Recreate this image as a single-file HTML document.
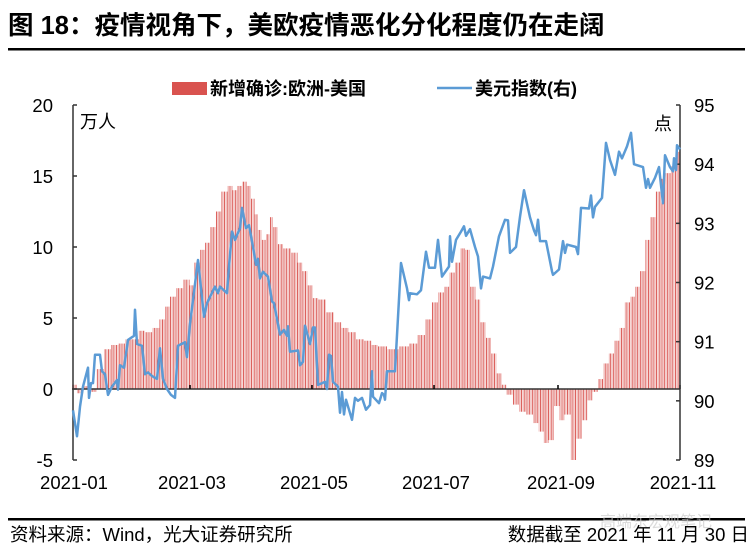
<!DOCTYPE html>
<html><head><meta charset="utf-8"><style>
body{margin:0;background:#fff;width:754px;height:555px;overflow:hidden;font-family:"Liberation Sans","Noto Sans CJK SC",sans-serif;}
</style></head><body>
<svg id="c" width="754" height="555" xmlns="http://www.w3.org/2000/svg" font-family="Liberation Sans, Noto Sans CJK SC, sans-serif">
<defs>
<pattern id="stripes" width="2.7" height="10" patternUnits="userSpaceOnUse">
<rect x="0" y="0" width="0.9" height="10" fill="#d9534f"/>
<rect x="1.35" y="0" width="0.9" height="10" fill="#eeb4b2"/>
</pattern>
</defs>
<text x="8" y="34" font-size="25.5" font-weight="bold" fill="#000">图 18：疫情视角下，美欧疫情恶化分化程度仍在走阔</text>
<rect x="8" y="48" width="737" height="2.5" fill="#000"/>
<g>
<rect x="172" y="82" width="35" height="13" fill="#d9534f"/>
<text x="210" y="95" font-size="18" font-weight="bold">新增确诊:欧洲-美国</text>
<line x1="437" y1="88" x2="472" y2="88" stroke="#5b9bd5" stroke-width="2.5"/>
<text x="475" y="95" font-size="18" font-weight="bold">美元指数(右)</text>
</g>
<text x="80" y="128" font-size="18">万人</text>
<text x="654" y="130" font-size="18">点</text>
<g id="bars"></g>
<g id="axes"></g>
<polyline id="usd" fill="none" stroke="#5b9bd5" stroke-width="2.5" stroke-linejoin="round"/>
<rect x="8" y="518" width="737" height="2.5" fill="#000"/>
<text x="600" y="527" font-size="16" fill="#ccc" opacity="0.7">高端东宏观笔记</text>
<text x="10" y="541" font-size="18.5">资料来源：Wind，光大证券研究所</text>
<text x="749" y="541" font-size="18.5" text-anchor="end">数据截至 2021 年 11 月 30 日</text>
</svg>
<script>
const barDays=[0.5,4,7.5,10.5,14,17.5,21.5,25,28,31.5,35,38,42.5,45,48,50,54,57.5,60,62.5,65.5,67.5,70.5,73,76.5,79,81.5,84,86,88.5,90.5,92,93.5,96,98,99.5,101.5,104,107.5,111.5,114,116.5,119,121.5,125,129,133,136.5,140,144,148,151.5,154.5,160.5,166.5,170.5,175,178,181.5,184.5,187.5,190,193,195.5,197.5,200.5,203,205.5,208,211,213.5,216,218.5,222,225,229,232,234.5,237,239.5,242.5,245,247.5,251,253.5,256.5,259,261.5,264.5,267,269.5,272.5,275,277.5,280.5,282.5,285.5,288,290.5,293,295.5,298,300.5,303];
const barValues=[0.3,-0.3,0.2,-0.2,1.4,2.8,3.1,3.2,3.5,3.5,4.1,4.0,4.3,4.9,5.8,6.5,7.1,7.7,7.3,8.9,9.8,10.3,11.4,12.5,13.9,14.3,14.0,14.3,14.6,14.3,13.4,12.3,11.2,10.5,10.9,12.1,11.4,10.2,9.9,9.6,8.9,8.3,7.3,6.4,6.3,5.4,4.7,4.3,4.0,3.5,3.4,3.1,3.0,2.8,3.0,3.2,3.8,4.9,6.1,6.8,7.2,8.2,8.9,9.9,9.8,7.2,6.3,4.7,3.6,2.5,1.1,0.3,-0.4,-1.1,-1.6,-1.8,-2.4,-3.0,-3.8,-3.6,-1.2,-2.2,-1.8,-5.0,-3.5,-2.2,-0.8,-0.2,0.7,1.8,2.5,3.4,4.3,6.1,6.5,7.2,8.3,10.5,12.1,13.9,14.8,15.2,15.7,16.7];
const lineDays=[0.5,2.5,4,5.5,8,8.5,9.5,10.5,11.5,14,15,16.5,18,20,22.5,23,24,26,28,31,31.5,32.5,35,36.5,38,40,42.5,44,45.5,47.5,49.5,51.5,53,56.5,57.5,59,63,66,67.5,71.5,73,74,77.5,78.5,80,81.5,84,85,87,88.5,90.5,92,93,94,95.5,98,100,101,104,106,107.5,108,109,113,114,115.5,116.5,119,120.5,121.5,123,126.5,127.5,128.5,129.5,130.5,133,134,135,136,137,140,141.5,143,145,147,149,150,150.5,153.5,155,156,156.5,157.5,161.5,164.5,167.5,168.5,169,172.5,174.5,177,178.5,181.5,183,185,188.5,189,190,192,194.5,196,197,199,201.5,203,204.5,205.5,209,210.5,213.5,216.5,218,219,222,224,226,229,231,232,233,234,237,240,240.5,243.5,245.5,246.5,247.5,252,253,254.5,258.5,259.5,260.5,261.5,265,267,269,271.5,273.5,275,277.5,279.5,281,285.5,287,288,289,291.5,293.5,295.5,296.5,299,300.5,301,302,302.5,304];
const lineValues=[89.84,89.4,89.9,90.24,90.56,90.05,90.3,90.3,90.78,90.78,90.5,90.45,90.1,90.24,90.35,90.19,90.6,90.56,91.03,91.1,91.54,90.96,90.93,90.45,90.48,90.42,90.37,90.89,90.37,90.2,90.1,90.05,90.93,90.99,90.74,91.3,92.38,91.42,91.65,91.93,91.82,91.93,91.82,92.27,92.86,92.72,92.92,93.26,92.92,92.97,92.6,92.3,92.4,92.07,92.18,92.1,91.68,91.65,91.12,91.2,91.1,91.26,90.83,90.85,90.6,90.66,91.27,90.96,91.24,91.24,90.27,90.32,90.2,90.78,90.76,90.32,90.24,89.8,90.15,89.77,90.02,89.68,90.05,90.0,90.05,89.85,89.93,90.5,90.07,89.96,90.13,90.1,90.02,90.5,90.5,92.33,91.9,91.7,91.82,91.8,91.87,92.52,92.25,92.25,92.72,92.1,92.27,92.78,92.35,92.72,92.86,92.95,92.79,92.9,92.6,92.44,91.9,92.1,92.07,92.27,92.78,93.06,93.05,92.5,92.6,93.11,93.56,93.1,92.88,92.8,93.06,92.7,92.7,92.19,92.13,92.22,92.7,92.5,92.64,92.6,92.48,93.26,93.25,93.47,93.1,93.28,93.43,94.36,94.07,93.82,94.21,94.1,94.3,94.53,94.0,93.95,93.6,93.75,93.6,93.77,93.95,93.34,94.15,93.95,93.88,94.1,93.9,94.32,94.25];
const leftTicks=[20,15,10,5,0,-5];
const rightTicks=[95,94,93,92,91,90,89];
const xTickDays=[59,120,181,243,304];
const xLabelDays=[1,60,121,182,244.5,305.5];
const xLabels=['2021-01','2021-03','2021-05','2021-07','2021-09','2021-11'];

const NS='http://www.w3.org/2000/svg';
const X0=72,X1=680,YT=105,YB=460;
const x=d=>X0+d/304*(X1-X0);
const yL=v=>YB-(v-(-5))/25*(YB-YT);
const yR=v=>YB-(v-89)/6*(YB-YT);
function mk(tag,attrs,parent){const e=document.createElementNS(NS,tag);for(const k in attrs)e.setAttribute(k,attrs[k]);parent.appendChild(e);return e;}
const bars=document.getElementById('bars');
const axes=document.getElementById('axes');
for(let i=0;i<barDays.length;i++){
  const x0=i===0?x(0):(x(barDays[i-1])+x(barDays[i]))/2;
  const x1=i===barDays.length-1?X1:(x(barDays[i])+x(barDays[i+1]))/2;
  const v=barValues[i];const y0=yL(0),y1=yL(v);
  const r=mk('rect',{x:x0,y:Math.min(y0,y1),width:Math.max(0.5,x1-x0),height:Math.abs(y1-y0),fill:'url(#stripes)'},bars);
  
  
}
const zl=mk('line',{x1:X0,x2:X1,y1:yL(0),y2:yL(0),stroke:'#333','stroke-width':1.5},axes);


xTickDays.forEach(d=>{const t=mk('line',{x1:x(d),x2:x(d),y1:yL(0),y2:yL(0)-4,stroke:'#000','stroke-width':1.5},axes);

});
xLabels.forEach((l,i)=>{const t=mk('text',{x:x(xLabelDays[i]),y:489,'font-size':18.5,'text-anchor':'middle'},axes);t.textContent=l;

});
const la=mk('line',{x1:X0+1,x2:X0+1,y1:YT,y2:YB,stroke:'#333','stroke-width':1.5},axes);


leftTicks.forEach(v=>{const t=mk('line',{x1:X0+1,x2:X0+5,y1:yL(v),y2:yL(v),stroke:'#333','stroke-width':1.5},axes);


const s=mk('text',{x:53,y:yL(v)+7,'font-size':18.5,'text-anchor':'end'},axes);s.textContent=v;

});
const ra=mk('line',{x1:X1,x2:X1,y1:YT,y2:YB,stroke:'#333','stroke-width':1.5},axes);


rightTicks.forEach(v=>{const t=mk('line',{x1:X1-4,x2:X1,y1:yR(v),y2:yR(v),stroke:'#333','stroke-width':1.5},axes);


const s=mk('text',{x:694,y:yR(v)+7,'font-size':18.5},axes);s.textContent=v;

});
document.getElementById('usd').setAttribute('points',lineDays.map((d,i)=>x(d).toFixed(1)+','+yR(lineValues[i]).toFixed(1)).join(' '));
</script>
</body></html>
